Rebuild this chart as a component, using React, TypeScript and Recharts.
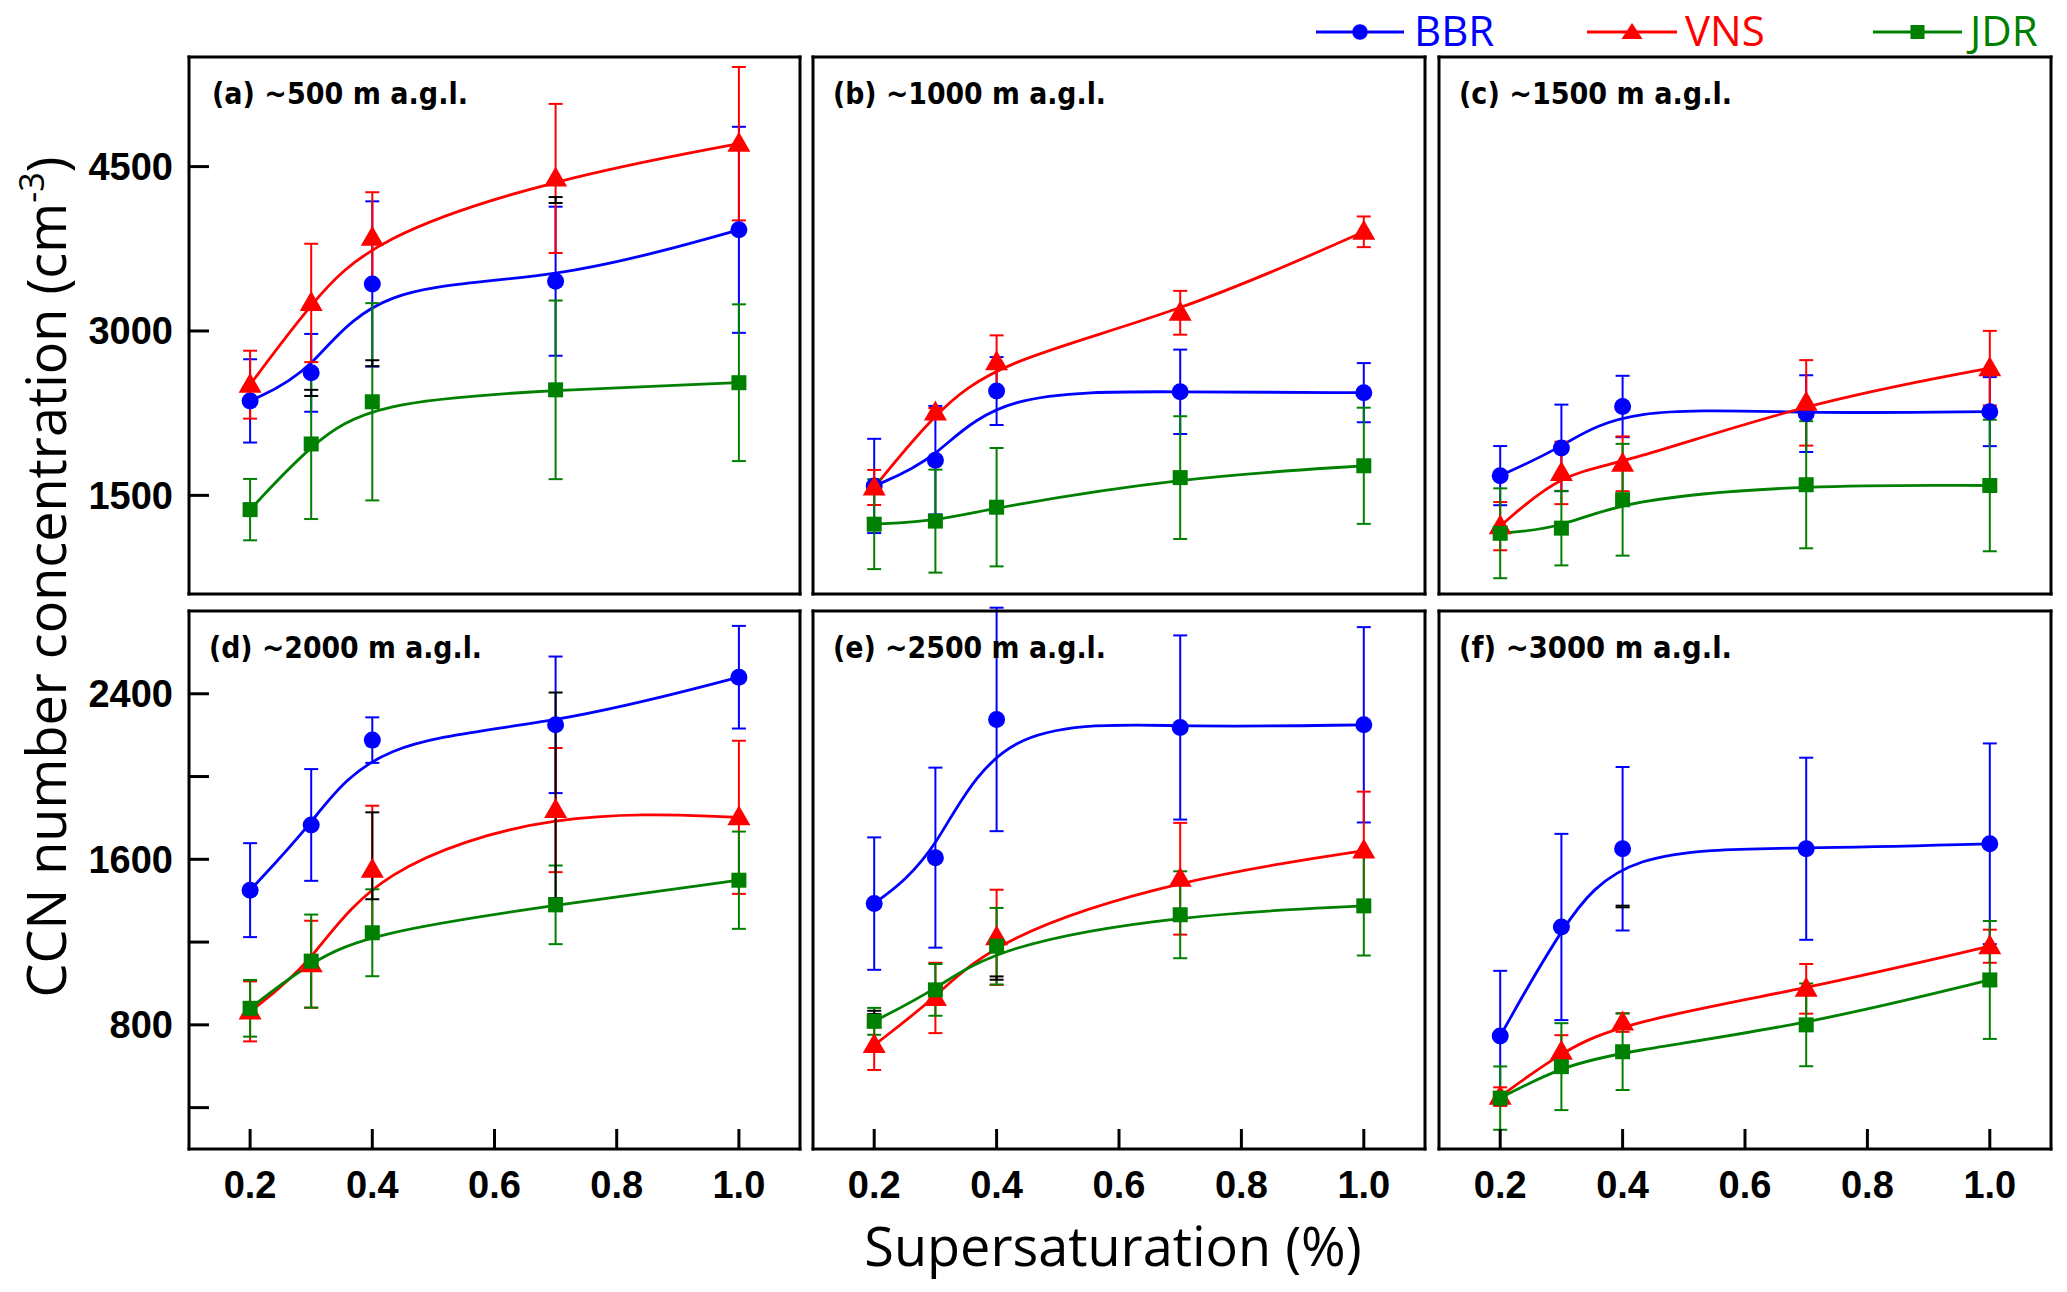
import React from 'react'
import { ComposedChart, Line, XAxis, YAxis, ErrorBar } from 'recharts'

// supersaturation levels (%)
const ss = [0.2, 0.3, 0.4, 0.7, 1.0]

const panelLabels = [
  '(a) ~500 m a.g.l.',
  '(b) ~1000 m a.g.l.',
  '(c) ~1500 m a.g.l.',
  '(d) ~2000 m a.g.l.',
  '(e) ~2500 m a.g.l.',
  '(f) ~3000 m a.g.l.',
]

// one row per panel (a)..(f), one value per supersaturation level
const bbrMean = [
  [2362, 2618, 3429, 3454, 3923],
  [1586, 1821, 2452, 2445, 2437],
  [1680, 1933, 2311, 2246, 2264],
  [1451, 1766, 2176, 2250, 2480],
  [1386, 1608, 2276, 2237, 2250],
  [746, 1273, 1651, 1651, 1675],
]
const bbrErr = [
  [380, 355, 754, 680, 940],
  [430, 495, 310, 385, 270],
  [270, 395, 280, 350, 315],
  [227, 270, 110, 330, 248],
  [320, 435, 540, 445, 472],
  [315, 450, 395, 440, 485],
]
const vnsMean = [
  [2510, 3256, 3851, 4392, 4709],
  [1572, 2257, 2715, 3166, 3905],
  [1219, 1705, 1788, 2344, 2661],
  [865, 1093, 1549, 1838, 1803],
  [702, 930, 1223, 1506, 1642],
  [453, 670, 811, 974, 1180],
]
const vnsErr = [
  [310, 540, 415, 680, 700],
  [160, 40, 245, 200, 140],
  [220, 285, 250, 390, 340],
  [145, 210, 310, 300, 370],
  [120, 170, 230, 270, 285],
  [45, 80, 45, 120, 80],
]
const jdrMean = [
  [1370, 1969, 2354, 2463, 2528],
  [1237, 1265, 1392, 1662, 1770],
  [1154, 1201, 1460, 1597, 1590],
  [880, 1108, 1245, 1380, 1499],
  [817, 969, 1180, 1332, 1375],
  [446, 598, 670, 800, 1017],
]
const jdrErr = [
  [280, 685, 900, 815, 715],
  [410, 470, 540, 560, 530],
  [410, 340, 510, 580, 600],
  [137, 225, 210, 190, 235],
  [65, 125, 185, 210, 240],
  [153, 210, 185, 200, 285],
]
// stray black error bars left in the original figure (null = none)
const blackMean = [
  [1345, 2435, 2706, 4195, 3935],
  [null, null, null, null, null],
  [null, null, null, null, null],
  [null, null, 1617, 1909, null],
  [860, 969, 1026, null, null],
  [746, null, 1372, null, null],
]
const blackErr = [
  [10, 28, 27, 27, 10],
  [null, null, null, null, null],
  [null, null, null, null, null],
  [null, null, 210, 497, null],
  [8, 5, 8, null, null],
  [5, null, 4, null, null],
]

const xMajor = [0.2, 0.4, 0.6, 0.8, 1.0]
const xMinor = [0.3, 0.5, 0.7, 0.9]
const yDomains = [[600, 5500], [200, 2800]]
const yMajor = [[1500, 3000, 4500], [400, 800, 1200, 1600, 2000, 2400]]
const yMinor = [[1000, 2000, 2500, 3500, 4000, 5000], [600, 1000, 1400, 1800, 2200, 2600]]
const yLabelStep = [1500, 800]

// panel frames in page pixels
const COLS = [[189, 800], [813, 1425], [1439, 2051]]
const ROWS = [[57, 594], [611, 1149]]
const M = 110
// each side carries two 1px axes (major + minor ticks)
const A = 2

const BLUE = '#0000ff'
const RED = '#ff0000'
const GREEN = '#008000'

const frame = { stroke: '#000', strokeWidth: 3, strokeLinecap: 'square' as const }
const tickLn = { stroke: '#000', strokeWidth: 3 }
const tickTxt = { fill: '#000', fontSize: 38, fontWeight: 700, fontFamily: 'Liberation Sans, Arial, sans-serif' }

const circleDot = (p: any) => (
  <circle key={`c${p.index}`} cx={p.cx} cy={p.cy} r={8.5} fill={BLUE} />
)
const triDot = (p: any) => (
  <polygon
    key={`t${p.index}`}
    points={`${p.cx},${p.cy - 12} ${p.cx - 11.5},${p.cy + 8} ${p.cx + 11.5},${p.cy + 8}`}
    fill={RED}
  />
)
const squareDot = (p: any) => (
  <rect key={`s${p.index}`} x={p.cx - 7.5} y={p.cy - 7.5} width={15} height={15} fill={GREEN} />
)

function Panel({ i }: { i: number }) {
  const col = i % 3
  const row = Math.floor(i / 3)
  const [l, r] = COLS[col]
  const [t, b] = ROWS[row]
  const w = r - l
  const h = b - t
  const data = ss.map((x, k) => ({
    x,
    bbr: bbrMean[i][k],
    bbrErr: bbrErr[i][k],
    vns: vnsMean[i][k],
    vnsErr: vnsErr[i][k],
    jdr: jdrMean[i][k],
    jdrErr: jdrErr[i][k],
  }))
  const stray = ss
    .map((x, k) => ({ x, blk: blackMean[i][k], blkErr: blackErr[i][k] }))
    .filter(d => d.blk !== null)
  const yDom = yDomains[row]
  const step = yLabelStep[row]
  const xCommon = { type: 'number' as const, domain: [0.1, 1.1], allowDataOverflow: true, height: 1, interval: 0 as const }
  const yCommon = { type: 'number' as const, domain: yDom, allowDataOverflow: true, width: 1, interval: 0 as const }

  return (
    <div style={{ position: 'absolute', left: l - M - A, top: t - M - A }}>
      <ComposedChart
        width={w + 2 * (M + A)}
        height={h + 2 * (M + A)}
        data={data}
        margin={{ top: M, right: M, bottom: M, left: M }}
      >
        <XAxis
          xAxisId="b"
          dataKey="x"
          {...xCommon}
          ticks={xMajor}
          tickSize={-20}
          tickMargin={42}
          tickLine={tickLn}
          axisLine={frame}
          tick={row === 1 ? tickTxt : false}
          tickFormatter={(v: number) => v.toFixed(1)}
        />
        <XAxis xAxisId="bm" {...xCommon} ticks={xMinor} tickSize={-11} tickLine={tickLn} axisLine={false} tick={false} />
        <XAxis xAxisId="t" orientation="top" {...xCommon} ticks={xMajor} tickSize={-20} tickLine={tickLn} axisLine={frame} tick={false} />
        <XAxis xAxisId="tm" orientation="top" {...xCommon} ticks={xMinor} tickSize={-11} tickLine={tickLn} axisLine={false} tick={false} />
        <YAxis
          yAxisId="l"
          {...yCommon}
          ticks={yMajor[row]}
          tickSize={-20}
          tickMargin={36}
          tickLine={tickLn}
          axisLine={frame}
          tick={col === 0 ? tickTxt : false}
          tickFormatter={(v: number) => (v % step === 0 ? String(v) : '')}
        />
        <YAxis yAxisId="lm" {...yCommon} ticks={yMinor[row]} tickSize={-11} tickLine={tickLn} axisLine={false} tick={false} />
        <YAxis yAxisId="r" orientation="right" {...yCommon} ticks={yMajor[row]} tickSize={-20} tickLine={tickLn} axisLine={frame} tick={false} />
        <YAxis yAxisId="rm" orientation="right" {...yCommon} ticks={yMinor[row]} tickSize={-11} tickLine={tickLn} axisLine={false} tick={false} />

        <Line xAxisId="b" yAxisId="l" dataKey="bbr" type="basis" stroke={BLUE} strokeWidth={2.8} dot={circleDot} activeDot={false} isAnimationActive={false}>
          <ErrorBar dataKey="bbrErr" direction="y" width={7} stroke={BLUE} strokeWidth={2} isAnimationActive={false} />
        </Line>
        <Line xAxisId="b" yAxisId="l" dataKey="vns" type="basis" stroke={RED} strokeWidth={2.8} dot={triDot} activeDot={false} isAnimationActive={false}>
          <ErrorBar dataKey="vnsErr" direction="y" width={7} stroke={RED} strokeWidth={2} isAnimationActive={false} />
        </Line>
        <Line xAxisId="b" yAxisId="l" dataKey="jdr" type="basis" stroke={GREEN} strokeWidth={2.8} dot={squareDot} activeDot={false} isAnimationActive={false}>
          <ErrorBar dataKey="jdrErr" direction="y" width={7} stroke={GREEN} strokeWidth={2} isAnimationActive={false} />
        </Line>
        {stray.length > 0 && (
          <Line xAxisId="b" yAxisId="l" data={stray} dataKey="blk" stroke="none" dot={false} activeDot={false} isAnimationActive={false}>
            <ErrorBar dataKey="blkErr" direction="y" width={7} stroke="#000" strokeWidth={2} isAnimationActive={false} />
          </Line>
        )}
      </ComposedChart>
    </div>
  )
}

const legendItems = [
  { name: 'BBR', color: BLUE, x0: 1316, x1: 1404, tx: 1414, shape: 'circle' },
  { name: 'VNS', color: RED, x0: 1587, x1: 1677, tx: 1685, shape: 'tri' },
  { name: 'JDR', color: GREEN, x0: 1873, x1: 1962, tx: 1970, shape: 'square' },
]

function Overlay() {
  const sans = 'Open Sans, sans-serif'
  return (
    <svg width={2067} height={1292} style={{ position: 'absolute', left: 0, top: 0, pointerEvents: 'none' }}>
      {legendItems.map(it => {
        const mx = (it.x0 + it.x1) / 2
        const y = 32
        return (
          <g key={it.name}>
            <line x1={it.x0} x2={it.x1} y1={y} y2={y} stroke={it.color} strokeWidth={3} />
            {it.shape === 'circle' && <circle cx={mx} cy={y} r={7.8} fill={it.color} />}
            {it.shape === 'tri' && (
              <polygon points={`${mx},${y - 9} ${mx - 10.5},${y + 7} ${mx + 10.5},${y + 7}`} fill={it.color} />
            )}
            {it.shape === 'square' && <rect x={mx - 7} y={y - 7} width={14} height={14} fill={it.color} />}
            <text x={it.tx} y={46} fontFamily={sans} fontSize={42} fill={it.color}>{it.name}</text>
          </g>
        )
      })}
      {panelLabels.map((s, i) => {
        const col = i % 3
        const row = Math.floor(i / 3)
        return (
          <text
            key={s}
            x={COLS[col][0] + (i === 0 ? 23 : 20)}
            y={row === 0 ? 104 : 658}
            fontFamily="DejaVu Sans, sans-serif"
            fontWeight={700}
            fontSize={30}
            textLength={i === 0 ? 256 : 273}
            lengthAdjust="spacingAndGlyphs"
          >
            {s}
          </text>
        )
      })}
      <text x={1113} y={1266} textAnchor="middle" fontFamily={sans} fontSize={54}>
        Supersaturation (%)
      </text>
      <text transform="translate(66,577) rotate(-90)" textAnchor="middle" fontFamily={sans} fontSize={54}>
        CCN number concentration (cm<tspan fontSize={34} dy={-22}>-3</tspan><tspan dy={22}>)</tspan>
      </text>
    </svg>
  )
}

export default function App() {
  return (
    <div style={{ position: 'absolute', left: 0, top: 0, width: 2067, height: 1292, background: '#fff' }}>
      {[0, 1, 2, 3, 4, 5].map(i => (
        <Panel key={i} i={i} />
      ))}
      <Overlay />
    </div>
  )
}
